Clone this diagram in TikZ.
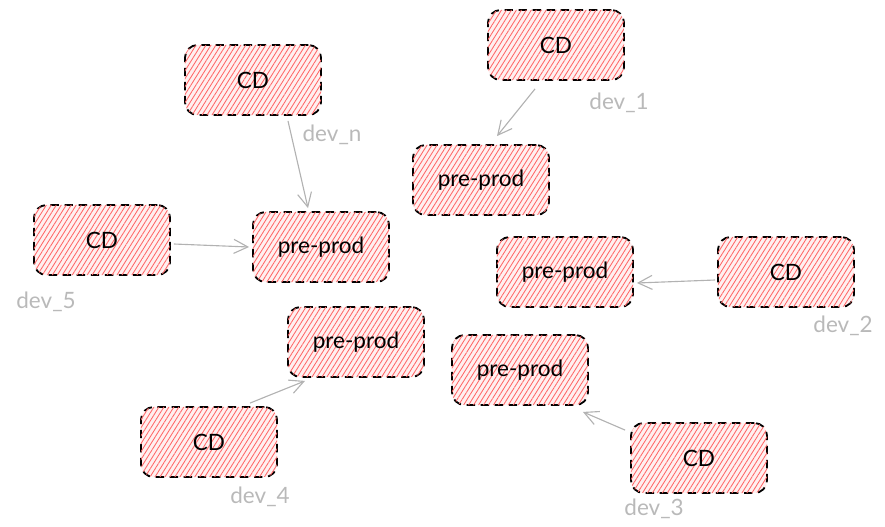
\documentclass[tikz,border=0pt]{standalone}
\usepackage{fontspec}
\newfontfamily\handfont{Lato}
\usetikzlibrary{arrows.meta, positioning, patterns.meta}

\begin{document}
\begin{tikzpicture}[
    x=0.025cm, y=-0.025cm,
    box/.style={
        rectangle,
        draw=black,
        line width=1.3pt,
        dash pattern=on 6pt off 4pt,
        rounded corners=9pt,
        fill=red!6,
        postaction={pattern={Lines[angle=58, distance=3pt, line width=0.6pt]}, pattern color=red!60},
        minimum width=3.4cm,
        minimum height=1.75cm,
        align=center,
        font=\handfont\fontsize{16}{18}\selectfont
    },
    tag/.style={
        text=gray!55,
        font=\handfont\fontsize{16}{18}\selectfont
    },
    arrow/.style={
        -{Straight Barb[length=10pt, width=10pt]},
        draw=gray!60,
        line width=0.8pt
    }
]
\useasboundingbox (0,0) rectangle (885,526);

% CD boxes
\node[box] (cdn) at (253,80) {CD};
\node[box] (cd1) at (556,45) {CD};
\node[box] (cd5) at (102,240) {CD};
\node[box] (cd2) at (786,272) {CD};
\node[box] (cd4) at (209,442) {CD};
\node[box] (cd3) at (699,458) {CD};

% pre-prod boxes
\node[box] (pren) at (321,247) {pre-prod};
\node[box] (pre1) at (481,180) {pre-prod};
\node[box] (pre2) at (565,272) {pre-prod};
\node[box] (pre4) at (356,342) {pre-prod};
\node[box] (pre3) at (520,370) {pre-prod};

% dev labels
\node[tag] (devn) at (332,135) {dev\_n};
\node[tag] (dev1) at (619,103) {dev\_1};
\node[tag] (dev5) at (46,302) {dev\_5};
\node[tag] (dev2) at (843,326) {dev\_2};
\node[tag] (dev4) at (260,497) {dev\_4};
\node[tag] (dev3) at (654,509) {dev\_3};

% CD to pre-prod
\draw[arrow] ([shift={(35,5)}]cdn.south) -- ([shift={(-13,-3)}]pren.north);
\draw[arrow] ([shift={(-21,8)}]cd1.south) -- ([shift={(16,-8)}]pre1.north);
\draw[arrow] ([shift={(3,4)}]cd5.east) -- ([shift={(-3,0)}]pren.west);
\draw[arrow] ([shift={(-2,8)}]cd2.west) -- ([shift={(3,11)}]pre2.east);
\draw[arrow] ([shift={(41,-3)}]cd4.north) -- ([shift={(-51,3)}]pre4.south);
\draw[arrow] ([shift={(-5,8)}]cd3.north west) -- ([shift={(-6,6)}]pre3.south east);

\end{tikzpicture}
\end{document}
